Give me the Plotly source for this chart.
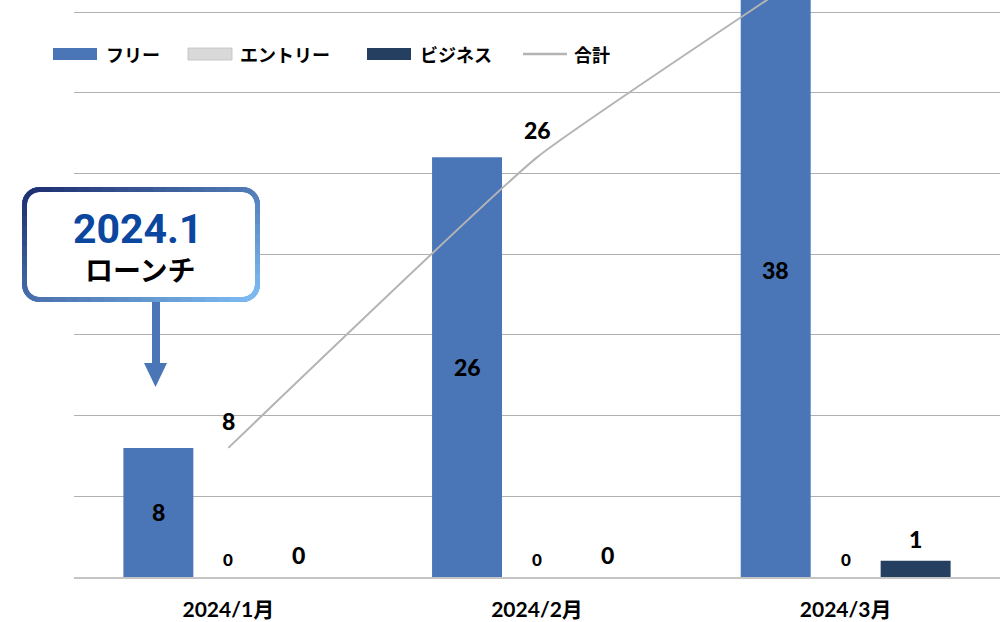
import math
import plotly.graph_objects as go

# ---------------- data ----------------
months = ["2024/1月", "2024/2月", "2024/3月"]
free = [8, 26, 38]
entry = [0, 0, 0]
business = [0, 0, 1]
total = [8, 26, 39]

names = ["フリー", "エントリー", "ビジネス", "合計"]
bar_colors = ["#4a76b8", "#d9d9d9", "#243f60"]
line_color = "#b4b4b4"

# ---------------- geometry ----------------
W, H = 1000, 622
ML, MR, MT, MB = 74, 0, 0, 45
PW, PH = W - ML - MR, H - MT - MB
YMAX = 35.75

def px(x):
    return (x - ML) / PW

def py(y):
    return (H - MB - y) / PH

NUM_FONT = "Lato, 'Noto Sans CJK JP', sans-serif"
JP_FONT = "'Noto Sans CJK JP', Lato, sans-serif"

fig = go.Figure()
for name, vals, col in zip(names[:3], [free, entry, business], bar_colors):
    fig.add_trace(go.Bar(x=months, y=vals, name=name, marker=dict(color=col, line=dict(width=0)),
                         showlegend=False))
fig.add_trace(go.Scatter(x=months, y=total, name=names[3], mode="lines",
                         line=dict(color=line_color, width=2, shape="spline", smoothing=0.35),
                         showlegend=False))

annotations = []
shift = [-70, 0, 70]
# bar labels
for i, m in enumerate(months):
    annotations.append(dict(x=m, y=free[i] / 2, xref="x", yref="y", xshift=shift[0],
                            text=str(free[i]), showarrow=False,
                            font=dict(family=NUM_FONT, size=23, color="black", weight=900)))
    annotations.append(dict(x=m, y=entry[i], xref="x", yref="y", xshift=shift[1], yshift=18,
                            text=str(entry[i]), showarrow=False,
                            font=dict(family=NUM_FONT, size=17, color="black", weight=900)))
    annotations.append(dict(x=m, y=business[i], xref="x", yref="y", xshift=shift[2], yshift=22,
                            text=str(business[i]), showarrow=False,
                            font=dict(family=NUM_FONT, size=23, color="black", weight=900)))
    if total[i] < YMAX:
        annotations.append(dict(x=m, y=total[i], xref="x", yref="y", yshift=27,
                                text=str(total[i]), showarrow=False,
                                font=dict(family=NUM_FONT, size=23, color="black", weight=900)))

shapes = []
# ---------------- custom legend ----------------
leg_y = 54
leg_items = [
    ("rect", 53, bar_colors[0], 104, names[0]),
    ("rect", 188, bar_colors[1], 238, names[1]),
    ("rect", 367, bar_colors[2], 418, names[2]),
    ("line", 523, line_color, 572, names[3]),
]
for kind, sx, col, tx, label in leg_items:
    if kind == "rect":
        shapes.append(dict(type="rect", xref="paper", yref="paper",
                           x0=px(sx), x1=px(sx + 44), y0=py(leg_y + 6), y1=py(leg_y - 6),
                           fillcolor=col, line=dict(width=0.8 if col == "#d9d9d9" else 0,
                                                    color="#bfbfbf"), layer="above"))
    else:
        shapes.append(dict(type="line", xref="paper", yref="paper",
                           x0=px(sx), x1=px(sx + 44), y0=py(leg_y), y1=py(leg_y),
                           line=dict(color=col, width=2.5), layer="above"))
    annotations.append(dict(x=px(tx), y=py(leg_y), xref="paper", yref="paper",
                            xanchor="left", yanchor="middle", text=label, showarrow=False,
                            font=dict(family=JP_FONT, size=18, color="black", weight="bold")))

# ---------------- callout box ----------------
bx0, by0, bx1, by1 = 24.5, 189.5, 257.5, 299.5
r = 15
pts = []
def edge(a, b, n):
    for k in range(n):
        t = k / n
        pts.append((a[0] + (b[0] - a[0]) * t, a[1] + (b[1] - a[1]) * t))
def arc(cx, cy, a0, a1, n):
    for k in range(n):
        a = math.radians(a0 + (a1 - a0) * k / n)
        pts.append((cx + r * math.cos(a), cy + r * math.sin(a)))
edge((bx0 + r, by0), (bx1 - r, by0), 16)
arc(bx1 - r, by0 + r, -90, 0, 8)
edge((bx1, by0 + r), (bx1, by1 - r), 8)
arc(bx1 - r, by1 - r, 0, 90, 8)
edge((bx1 - r, by1), (bx0 + r, by1), 16)
arc(bx0 + r, by1 - r, 90, 180, 8)
edge((bx0, by1 - r), (bx0, by0 + r), 8)
arc(bx0 + r, by0 + r, 180, 270, 8)
pts.append(pts[0])

path = "M " + " L ".join(f"{px(x):.5f},{py(y):.5f}" for x, y in pts) + " Z"
shapes.append(dict(type="path", xref="paper", yref="paper", path=path,
                   fillcolor="white", line=dict(width=5, color="#4f7cc0"), layer="above"))

c0 = (0x1d, 0x2e, 0x70)
c1 = (0x7e, 0xbe, 0xf4)
for (xa, ya), (xb, yb) in zip(pts[:-1], pts[1:]):
    mx, my = (xa + xb) / 2, (ya + yb) / 2
    t = ((mx - bx0) / (bx1 - bx0) * 0.55 + (my - by0) / (by1 - by0) * 0.45)
    t = max(0, min(1, t))
    col = "#%02x%02x%02x" % tuple(int(c0[j] + (c1[j] - c0[j]) * t) for j in range(3))
    dx, dy = xb - xa, yb - ya
    ln = math.hypot(dx, dy) or 1
    ex, ey = dx / ln * 0.8, dy / ln * 0.8
    shapes.append(dict(type="line", xref="paper", yref="paper",
                       x0=px(xa - ex), y0=py(ya - ey), x1=px(xb + ex), y1=py(yb + ey),
                       line=dict(color=col, width=5), layer="above"))

# arrow
shapes.append(dict(type="rect", xref="paper", yref="paper",
                   x0=px(152), x1=px(160), y0=py(364), y1=py(302),
                   fillcolor="#4a76b8", line=dict(width=0), layer="above"))
shapes.append(dict(type="path", xref="paper", yref="paper",
                   path=f"M {px(144)},{py(363)} L {px(167)},{py(363)} L {px(155.5)},{py(387)} Z",
                   fillcolor="#4a76b8", line=dict(width=0), layer="above"))

annotations.append(dict(x=px(138), y=py(229), xref="paper", yref="paper", text="2024.1",
                        showarrow=False, xanchor="center", yanchor="middle",
                        font=dict(family="Roboto, Lato, sans-serif", size=41, color="#0b469f",
                                  weight="bold")))
annotations.append(dict(x=px(140), y=py(269), xref="paper", yref="paper", text="ローンチ",
                        showarrow=False, xanchor="center", yanchor="middle",
                        font=dict(family=JP_FONT, size=28, color="black", weight="bold")))

fig.update_layout(
    width=W, height=H,
    margin=dict(l=ML, r=MR, t=MT, b=MB),
    paper_bgcolor="white", plot_bgcolor="white",
    barmode="group", bargap=0.32, bargroupgap=0,
    showlegend=False,
    xaxis=dict(showgrid=False, showline=True, linecolor="#c4c4c4", linewidth=2,
               ticks="", ticklabelstandoff=13,
               tickfont=dict(family=NUM_FONT, size=21, color="black", weight="bold")),
    yaxis=dict(range=[0, YMAX], dtick=5, showticklabels=False, showgrid=True,
               gridcolor="#b0b0b0", gridwidth=1.2, zeroline=False, showline=False),
    annotations=annotations,
    shapes=shapes,
)

fig.write_html("out.html", config={"displayModeBar": False},
               post_script="document.body.style.margin='0';document.body.style.overflow='hidden';")
